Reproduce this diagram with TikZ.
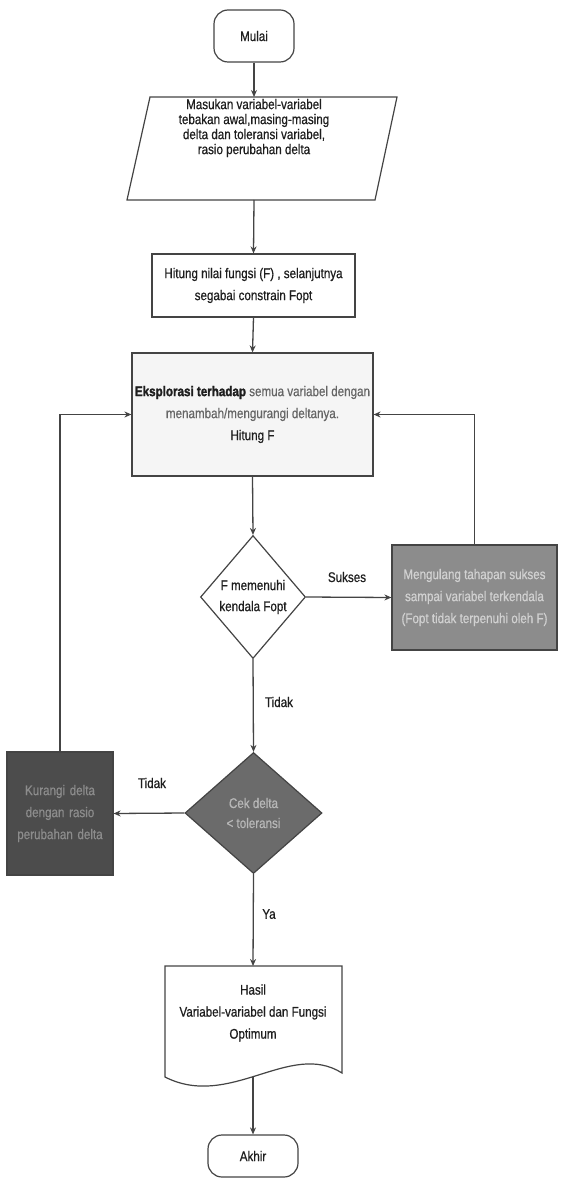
\documentclass[tikz,border=0pt]{standalone}
\usepackage{fontspec}
\setmainfont{Liberation Sans}[FakeStretch=0.83,FakeBold=0.6,BoldFeatures={FakeBold=1.6}]
\usetikzlibrary{arrows.meta,shapes.geometric}
\definecolor{ln}{HTML}{444444}
\definecolor{txt}{HTML}{1E1E1E}
\begin{document}
\begin{tikzpicture}[x=1pt,y=-1pt,
  every node/.style={font=\fontsize{14}{22}\selectfont,text=txt,align=center},
  conn/.style={draw=ln,line width=1.3pt},
  arr/.style={conn,-{Stealth[length=7pt,width=6pt]}},
  shp/.style={draw=ln,line width=1.2pt,inner sep=0pt},
  term/.style={shp,rounded corners=14pt},
  lbl/.style={font=\fontsize{14}{16}\selectfont,inner sep=1pt}]
\useasboundingbox (0,0) rectangle (560,1182);
\fill[white] (0,0) rectangle (560,1182);

% Start
\node[term,minimum width=80pt,minimum height=52pt] (mulai) at (254,36) {Mulai};

% Input parallelogram
\draw[shp] (150,97) -- (397,97) -- (375,200) -- (127,200) -- cycle;
\node[minimum width=200pt,minimum height=103pt,inner sep=0pt] (inp) at (262,148.5) {};
\node[font=\fontsize{14}{15}\selectfont] at (254,128) {Masukan variabel-variabel\\tebakan awal,masing-masing\\delta dan toleransi variabel,\\rasio perubahan delta};
\coordinate (inpt) at (254,97);
\coordinate (inpb) at (254,200);

% Hitung
\node[shp,minimum width=203pt,minimum height=63pt] (hit) at (253.5,285.5) {Hitung nilai fungsi (F) , selanjutnya\\segabai constrain Fopt};

% Eksplorasi
\node[shp,fill=black!4,minimum width=241pt,minimum height=123pt] (eks) at (252.5,414.5)
  {\textbf{Eksplorasi terhadap} \textcolor{black!60}{semua variabel dengan}\\\textcolor{black!60}{menambah/mengurangi deltanya.}\\Hitung F};

% Decision 1
\node[shp,diamond,minimum width=105pt,minimum height=123pt,aspect=0.85] (d1) at (253,597) {};
\node[font=\fontsize{14}{21}\selectfont] at (d1.center) {F memenuhi\\kendala Fopt};

% Mengulang
\node[shp,fill=black!45,text=black!18,minimum width=165pt,minimum height=105pt] (meng) at (474.5,597.5)
  {Mengulang tahapan sukses\\sampai variabel terkendala\\(Fopt tidak terpenuhi oleh F)};

% Decision 2
\node[shp,diamond,fill=black!58,minimum width=137pt,minimum height=121pt,aspect=1.13] (d2) at (253.5,813) {};
\node[text=black!28,font=\fontsize{14}{20}\selectfont] at (d2.center) {Cek delta\\< toleransi};

% Left box
\node[shp,fill=black!70,text=black!45,minimum width=106pt,minimum height=123pt,text width=96pt] (kur) at (60,813.5)
  {Kurangi delta dengan rasio perubahan delta};

% Document
\draw[shp] (165,966) -- (342,966) -- (342,1073) .. controls (290,1040) and (230,1110) .. (165,1077) -- cycle;
\node (doc) at (253,1013) {Hasil\\Variabel-variabel dan Fungsi\\Optimum};
\coordinate (doct) at (253,966);
\coordinate (docb) at (253,1077);

% End
\node[term,minimum width=90pt,minimum height=42pt] (akhir) at (253,1156) {Akhir};

% Connectors
\draw[arr] (mulai.south) -- (inpt);
\draw[arr] (inpb) -- (hit.north);
\draw[arr] (hit.south) -- (eks.north);
\draw[arr] (eks.south) -- (d1.north);
\draw[arr] (d1.east) -- (meng.west);
\node[lbl] at (347,577) {Sukses};
\draw[arr] (meng.north) |- (eks.east);
\draw[arr] (d1.south) -- (d2.north);
\node[lbl] at (279,702) {Tidak};
\draw[arr] (d2.west) -- (kur.east);
\node[lbl] at (152,783) {Tidak};
\draw[arr] (kur.north) |- (eks.west);
\draw[arr] (d2.south) -- (doct);
\node[lbl] at (269,914) {Ya};
\draw[arr] (docb) -- (akhir.north);
\end{tikzpicture}
\end{document}
